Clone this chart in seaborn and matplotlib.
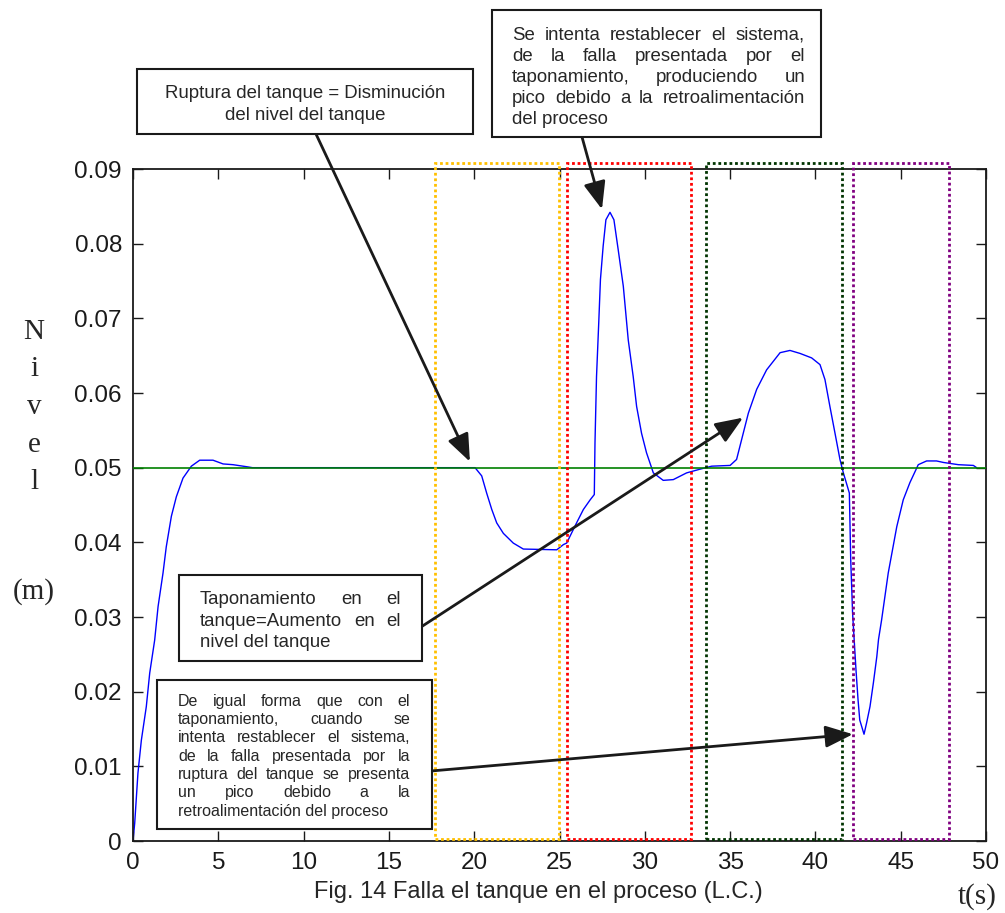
import numpy as np
import pandas as pd
import seaborn as sns
import matplotlib.pyplot as plt
from matplotlib.patches import Rectangle

W, H = 1005, 913

# nivel del tanque (m)
t_nivel = [0, 0.1, 0.29, 0.49, 0.78, 0.98, 1.27, 1.47, 1.76, 1.95, 2.25, 2.54, 2.93, 3.42,
           3.91, 4.69, 5.28, 5.86, 6.74, 7.0, 20.05, 20.44, 20.73, 21.03, 21.32, 21.71,
           22.29, 22.88, 24.84, 25.23, 25.42, 26.0, 26.4, 26.8, 27.04, 27.08, 27.17, 27.3,
           27.4, 27.56, 27.72, 27.96, 28.19, 28.44, 28.74, 29.03, 29.32, 29.52, 29.81, 30.1,
           30.5, 31.08, 31.67, 32.45, 33.24, 33.92, 35.0, 35.38, 35.68, 36.07, 36.56, 37.14,
           37.93, 38.51, 39.1, 39.78, 40.27, 40.56, 40.85, 41.15, 41.44, 41.64, 41.99, 42.07,
           42.18, 42.38, 42.5, 42.6, 42.85, 43.0, 43.2, 43.4, 43.6, 43.7, 43.88, 44.27, 44.77,
           45.15, 45.54, 46.03, 46.52, 47.1, 47.5, 48.38, 49.26, 49.45]
nivel = [0, 0.0024, 0.0091, 0.0135, 0.018, 0.0225, 0.0269, 0.0314, 0.0359, 0.0394, 0.0435,
         0.0461, 0.0486, 0.0502, 0.051, 0.051, 0.0505, 0.0504, 0.0501, 0.05, 0.05, 0.0489,
         0.0466, 0.0444, 0.0426, 0.0412, 0.0399, 0.0391, 0.039, 0.0397, 0.0399, 0.0426, 0.0444,
         0.0457, 0.0464, 0.0533, 0.0622, 0.0694, 0.0752, 0.0797, 0.0832, 0.0842, 0.0832,
         0.0792, 0.0743, 0.0671, 0.0622, 0.0582, 0.0546, 0.052, 0.0493, 0.0483, 0.0484,
         0.0493, 0.0498, 0.0502, 0.0503, 0.0511, 0.0538, 0.0573, 0.0605, 0.0631, 0.0654,
         0.0657, 0.0653, 0.0647, 0.0638, 0.0618, 0.0582, 0.0546, 0.0511, 0.0493, 0.0466,
         0.0377, 0.0305, 0.0229, 0.0189, 0.0162, 0.0143, 0.0158, 0.018, 0.0212, 0.0247,
         0.027, 0.0296, 0.0359, 0.0421, 0.0457, 0.048, 0.0504, 0.0509, 0.0509, 0.0507,
         0.0504, 0.0503, 0.05]
referencia = 0.05

# ventanas de falla (inicio, fin en s)
ventanas_ini = [17.7, 25.42, 33.6, 42.19]
ventanas_fin = [24.97, 32.7, 41.56, 47.85]
ventanas_col = ["#ffc000", "#ff0000", "#003300", "#800080"]

xticks = list(range(0, 51, 5))
yticks = [0, 0.01, 0.02, 0.03, 0.04, 0.05, 0.06, 0.07, 0.08, 0.09]
ytick_labels = ["0", "0.01", "0.02", "0.03", "0.04", "0.05", "0.06", "0.07", "0.08", "0.09"]

sns.set_theme(style="ticks")
plt.rcParams["font.family"] = ["Liberation Sans", "DejaVu Sans"]

fig = plt.figure(figsize=(W / 100, H / 100), dpi=100)
ax = fig.add_axes([133 / W, 1 - 841 / H, (986 - 133) / W, (841 - 169) / H])

df = pd.DataFrame({"t": t_nivel, "nivel": nivel})
sns.lineplot(data=df, x="t", y="nivel", sort=False, estimator=None,
             color="#0000ff", lw=1.0, ax=ax, zorder=2)
ax.axhline(referencia, color="#008000", lw=1.2, zorder=3)

for a, b, c in zip(ventanas_ini, ventanas_fin, ventanas_col):
    ax.add_patch(Rectangle((a, 0.0003), b - a, 0.0905, fill=False, ec=c,
                           lw=2, ls=(0, (1, 1)), clip_on=False, zorder=4))

ax.set_xlim(0, 50)
ax.set_ylim(0, 0.09)
ax.set_xticks(xticks)
ax.set_yticks(yticks)
ax.set_yticklabels(ytick_labels)
ax.set_xlabel("")
ax.set_ylabel("")
ax.tick_params(direction="in", top=True, right=True, length=7, width=1,
               labelsize=17.5, pad=8, colors="k")
for s in ax.spines.values():
    s.set_color("k")
    s.set_linewidth(1.3)

# etiquetas estilo MATLAB
for i, letra in enumerate("Nivel"):
    fig.text(34 / W, 1 - (332 + i * 37.5) / H, letra, family="Liberation Serif",
             fontsize=21, ha="center", va="center")
fig.text(34 / W, 1 - 592 / H, "(m)", family="Liberation Serif", fontsize=21,
         ha="center", va="center")
fig.text(977 / W, 1 - 897 / H, "t(s)", family="Liberation Serif", fontsize=21,
         ha="center", va="center")
fig.text(538 / W, 1 - 892 / H, "Fig. 14 Falla el tanque en el proceso (L.C.)",
         fontsize=17, ha="center", va="center")


def caja(x0, y0, x1, y1):
    fig.patches.append(Rectangle((x0 / W, 1 - y1 / H), (x1 - x0) / W, (y1 - y0) / H,
                                 transform=fig.transFigure, fill=True, fc="white",
                                 ec="k", lw=1.5, zorder=5))


fig.canvas.draw()
rend = fig.canvas.get_renderer()


def justificado(lineas, x0, x1, centros, size):
    off = 0.36 * size * 100 / 72
    for k, (linea, yc) in enumerate(zip(lineas, centros)):
        yb = 1 - (yc + off) / H
        palabras = linea.split()
        if k == len(lineas) - 1 or len(palabras) == 1:
            fig.text(x0 / W, yb, linea, fontsize=size, va="baseline", ha="left", zorder=6)
            continue
        objs = [fig.text(0, yb, p, fontsize=size, va="baseline", ha="left", zorder=6)
                for p in palabras]
        anchos = [o.get_window_extent(rend).width for o in objs]
        hueco = (x1 - x0 - sum(anchos)) / (len(palabras) - 1)
        x = x0
        for o, a in zip(objs, anchos):
            o.set_x(x / W)
            x += a + hueco


def flecha(x0, y0, tx, ty):
    ax.annotate("", xy=(tx, ty), xycoords="data",
                xytext=(x0 / W, 1 - y0 / H), textcoords="figure fraction",
                arrowprops=dict(arrowstyle="-|>,head_length=0.7,head_width=0.28",
                                mutation_scale=24, color="k", lw=2,
                                shrinkA=0, shrinkB=0),
                annotation_clip=False, zorder=7)


# caja 1
caja(137, 69, 473, 134)
fig.text(305 / W, 1 - (91 + 6.7) / H, "Ruptura del tanque = Disminución",
         fontsize=13.4, ha="center", va="baseline", zorder=6)
fig.text(305 / W, 1 - (113 + 6.7) / H, "del nivel del tanque",
         fontsize=13.4, ha="center", va="baseline", zorder=6)
flecha(316, 134, 19.75, 0.0508)

# caja 2
caja(492, 10, 821, 137)
justificado(["Se intenta restablecer el sistema,",
             "de la falla presentada por el",
             "taponamiento, produciendo un",
             "pico debido a la retroalimentación",
             "del proceso"], 512, 805, [33, 54, 75, 96, 117], 13.4)
flecha(582, 137, 27.49, 0.0846)

# caja 3
caja(179, 575, 422, 661)
justificado(["Taponamiento en el",
             "tanque=Aumento en el",
             "nivel del tanque"], 200, 401, [597, 619, 640], 13.4)
flecha(421, 627, 35.76, 0.0567)

# caja 4
caja(157, 680, 432, 829)
justificado(["De igual forma que con el",
             "taponamiento, cuando se",
             "intenta restablecer el sistema,",
             "de la falla presentada por la",
             "ruptura del tanque se presenta",
             "un pico debido a la",
             "retroalimentación del proceso"], 178, 410,
            [700, 718.3, 736.7, 755, 773.3, 791.7, 810], 11.5)
flecha(431, 771, 42.2, 0.0143)

fig.savefig("out.png", dpi=100)
